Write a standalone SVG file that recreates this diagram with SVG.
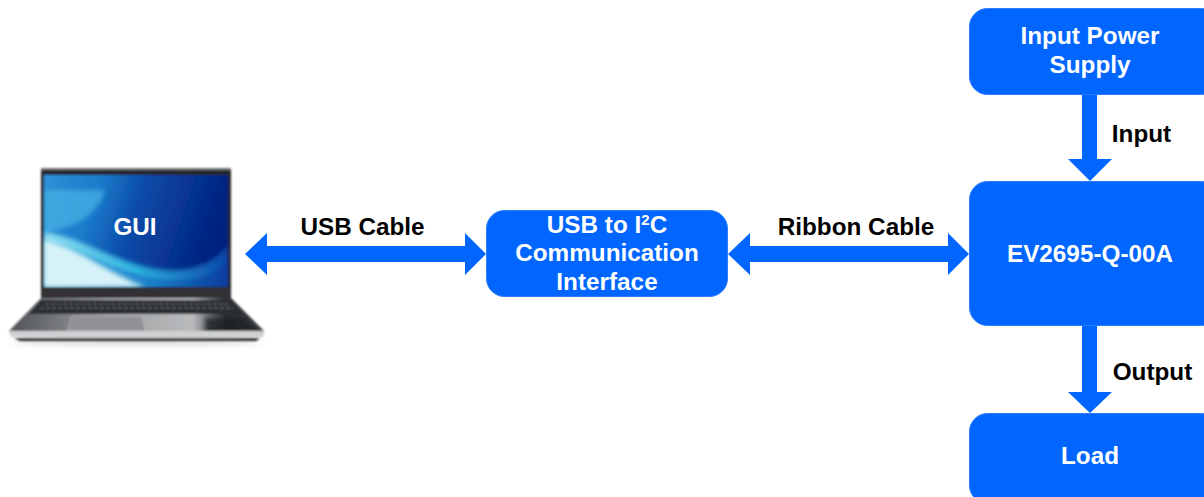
<svg xmlns="http://www.w3.org/2000/svg" width="1204" height="497" viewBox="0 0 1204 497">
<style>
.box{fill:#0066ff;stroke:#2f7dff;stroke-width:1}
.arrow{fill:#0066ff}
text{font-family:"Liberation Sans",Arial,sans-serif;font-weight:700;font-size:24.300px;text-anchor:middle}
.w{fill:#fff}
.k{fill:#000}
</style>
<defs>
<linearGradient id="scr" x1="0" y1="0" x2="1" y2="0.2">
<stop offset="0" stop-color="#2f92d6"/><stop offset="0.3" stop-color="#1a7ccb"/><stop offset="0.55" stop-color="#0b4aa8"/><stop offset="1" stop-color="#03217f"/>
</linearGradient>
<linearGradient id="wave" x1="0" y1="0" x2="1" y2="0">
<stop offset="0" stop-color="#8fdff0"/><stop offset="0.5" stop-color="#2ab0de"/><stop offset="1" stop-color="#0a46a6"/>
</linearGradient>
<linearGradient id="low" x1="0" y1="0" x2="1" y2="0">
<stop offset="0" stop-color="#5cc8e8"/><stop offset="0.6" stop-color="#1a7ec8"/><stop offset="1" stop-color="#063a9c"/>
</linearGradient>
<linearGradient id="deck" x1="0" y1="0" x2="1" y2="0">
<stop offset="0" stop-color="#505256"/><stop offset="0.4" stop-color="#a0a2a4"/><stop offset="0.72" stop-color="#b8babc"/><stop offset="0.85" stop-color="#2c2e32"/><stop offset="1" stop-color="#3c3e42"/>
</linearGradient>
<filter id="b1" x="-10%" y="-10%" width="120%" height="120%"><feGaussianBlur stdDeviation="0.8"/></filter>
<filter id="b2" x="-20%" y="-20%" width="140%" height="140%"><feGaussianBlur stdDeviation="2"/></filter>
<filter id="b3" x="-20%" y="-200%" width="140%" height="500%"><feGaussianBlur stdDeviation="3"/></filter>
<clipPath id="sc"><rect x="44" y="175" width="184" height="112"/></clipPath>
</defs>
<g id="laptop">
<ellipse cx="136" cy="342" rx="125" ry="3" fill="#d4d4d4" filter="url(#b3)"/>
<g filter="url(#b1)">
<rect x="41" y="168" width="190" height="131" rx="2" fill="#26282c"/>
<rect x="41" y="168" width="190" height="2" fill="#77797c"/>
<rect x="44" y="175" width="184" height="112" fill="url(#scr)"/>
<g clip-path="url(#sc)">
<path d="M44 190H105C100 210 80 228 44 232Z" fill="#4ab4e6" opacity="0.7" filter="url(#b2)"/>
<path d="M44 232C85 238 120 266 165 270C195 272 215 262 228 245V287H44Z" fill="url(#wave)" filter="url(#b2)"/>
<path d="M44 240C90 250 118 276 170 280C195 281 215 275 228 265V287H44Z" fill="url(#low)" filter="url(#b1)"/>
<path d="M44 240C78 248 105 272 145 287H44Z" fill="#d6f2f8" filter="url(#b2)"/>
</g>
<rect x="43" y="288" width="186" height="10" fill="#303236"/>
<path d="M41 298H231L264 331L262 337H12L9 331Z" fill="url(#deck)"/>
<path d="M41 300H231L243 314H29Z" fill="#2b2d31"/>
<path d="M45 304H228M40 308H233" stroke="#74767a" stroke-width="1" stroke-dasharray="4 2"/>
<path d="M72 316H142L145 331H67Z" fill="#8f9194" stroke="#c4c5c7" stroke-width="0.5"/>
<path d="M205 318H244L262 334H205Z" fill="#1e2024" opacity="0.8" filter="url(#b2)"/>
<path d="M9 331H264L262 337Q136 340 12 337Z" fill="#cfd0d2"/>
<path d="M14 338H260L256 341H20Z" fill="#2c2e30"/>
</g>
<text class="w" x="135" y="235">GUI</text>
</g>
<g id="connectors">
<path id="usb-cable" class="arrow" d="M245 254L267 233V246H465V233L486 254L465 275V262H267V275Z"/>
<path id="ribbon-cable" class="arrow" d="M728 254L750 233V246H948V233L969 254L948 275V262H750V275Z"/>
<path id="input" class="arrow" d="M1082 94H1097V159H1112L1090 181L1068 159H1082Z"/>
<path id="output" class="arrow" d="M1082 326H1097V392H1112L1090 413L1068 392H1082Z"/>
</g>
<g id="usb-i2c"><rect class="box" x="486.500" y="210.500" width="241" height="86" rx="18"/>
<text class="w" x="607" y="233">USB to I<tspan font-size="15" dy="-8">2</tspan><tspan dy="8">C</tspan></text>
<text class="w" x="607" y="261">Communication</text>
<text class="w" x="607" y="290">Interface</text></g>
<g id="input-power-supply"><rect class="box" x="969.500" y="8.500" width="250" height="86" rx="18"/>
<text class="w" x="1090" y="44">Input Power</text>
<text class="w" x="1090" y="73">Supply</text></g>
<g id="ev2695"><rect class="box" x="969.500" y="181.500" width="250" height="144" rx="18"/>
<text class="w" x="1090" y="262">EV2695-Q-00A</text></g>
<g id="load"><rect class="box" x="969.500" y="413.500" width="250" height="90" rx="18"/>
<text class="w" x="1090" y="464">Load</text></g>
<g id="labels">
<text class="k" x="362.500" y="235">USB Cable</text>
<text class="k" x="856" y="235">Ribbon Cable</text>
<text class="k" x="1141.500" y="142">Input</text>
<text class="k" x="1152.500" y="380">Output</text>
</g>
</svg>
